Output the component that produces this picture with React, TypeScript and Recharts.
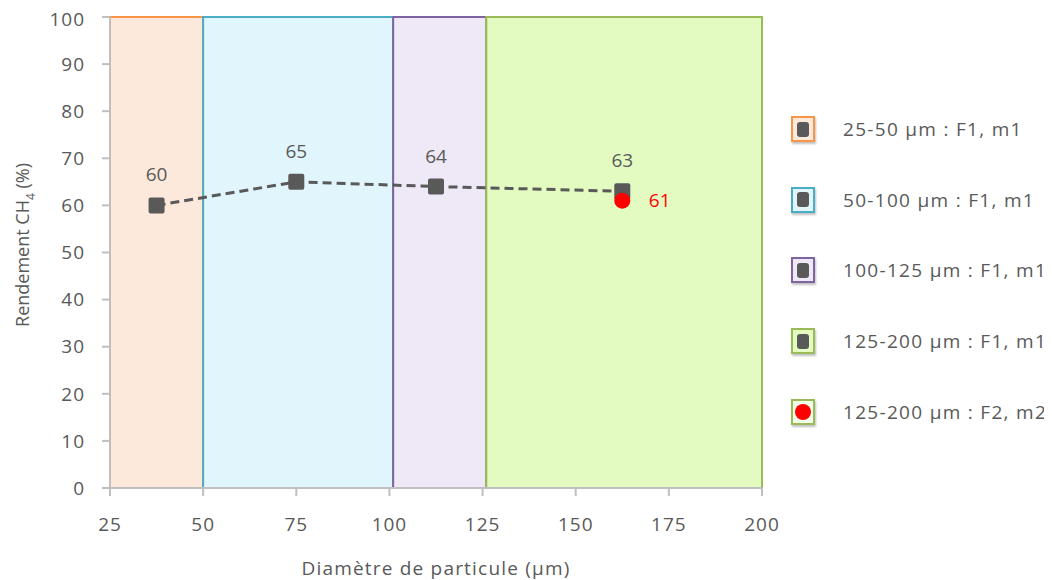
import { ComposedChart, Line, Scatter, XAxis, YAxis, ReferenceArea, LabelList } from "recharts";

// particle size ranges (µm) shown as coloured bands
const rangeLabels = ["25-50 µm : F1, m1", "50-100 µm : F1, m1", "100-125 µm : F1, m1", "125-200 µm : F1, m1"];
const rangeStart = [25, 50, 101, 126];
const rangeEnd = [50, 101, 126, 200];
const rangeFill = ["#fde9db", "#e1f5fd", "#eee8f7", "#e3fbc1"];
const rangeStroke = ["#f79646", "#4bacc6", "#8064a2", "#9bbb59"];

// F1, m1 series
const diam = [37.5, 75, 112.5, 162.5];
const rendement = [60, 65, 64, 63];

// F2, m2 point
const diamF2 = [162.5];
const rendementF2 = [61];
const f2Label = "125-200 µm : F2, m2";

const xTicks = [25, 50, 75, 100, 125, 150, 175, 200];
const yTicks = [0, 10, 20, 30, 40, 50, 60, 70, 80, 90, 100];

const FONT = "'Open Sans', 'DejaVu Sans', sans-serif";
const GREY = "#595959";
const AXIS = "#bfbfbf";

const f1Data = diam.map((x, i) => ({ x, y: rendement[i] }));
const f2Data = diamF2.map((x, i) => ({ x, y: rendementF2[i] }));

const tickStyle = { fill: GREY, fontSize: 19, fontFamily: FONT, letterSpacing: 1 };

const SquareDot = (props: any) => {
  const { cx, cy, index } = props;
  if (cx == null || cy == null) return null;
  return <rect key={`sq-${index}`} x={cx - 8} y={cy - 8} width={16} height={16} rx={2} fill={GREY} />;
};

const RedDot = (props: any) => {
  const { cx, cy } = props;
  return <circle cx={cx} cy={cy} r={8} fill="#ff0000" />;
};

const YLabel = () => (
  <text
    x={14}
    y={237}
    transform="rotate(-90 14 237)"
    textAnchor="middle"
    dominantBaseline="central"
    fill={GREY}
    fontSize={18}
    fontFamily={FONT}
  >
    Rendement CH<tspan baselineShift="sub" fontSize={12}>4</tspan> (%)
  </text>
);

const LegendIcon = ({ stroke, fill, round }: { stroke: string; fill: string; round?: boolean }) => (
  <div
    style={{
      width: 24,
      height: 26,
      boxSizing: "border-box",
      border: `2px solid ${stroke}`,
      background: fill,
      boxShadow: "1px 2px 2px rgba(0,0,0,0.25)",
      display: "flex",
      alignItems: "center",
      justifyContent: "center",
    }}
  >
    {round ? (
      <div style={{ width: 16, height: 16, borderRadius: 8, background: "#ff0000" }} />
    ) : (
      <div style={{ width: 12, height: 15, borderRadius: 3, background: GREY }} />
    )}
  </div>
);

export default function App() {
  const legendRows = [
    ...rangeLabels.map((label, i) => ({ label, stroke: rangeStroke[i], fill: rangeFill[i], round: false })),
    { label: f2Label, stroke: rangeStroke[3], fill: "#f4fde8", round: true },
  ];

  return (
    <div style={{ position: "relative", width: 1036, height: 572, fontFamily: FONT }}>
      <ComposedChart width={780} height={572} margin={{ top: 9, right: 26, left: 0, bottom: 0 }}>
        {rangeStart.map((s, i) => (
          <ReferenceArea
            key={i}
            x1={s}
            x2={rangeEnd[i]}
            y1={0}
            y2={100}
            fill={rangeFill[i]}
            fillOpacity={1}
            stroke={rangeStroke[i]}
            strokeWidth={2}
          />
        ))}
        <XAxis
          type="number"
          dataKey="x"
          domain={[25, 200]}
          ticks={xTicks}
          allowDataOverflow
          height={92}
          tickSize={8}
          tickMargin={22}
          stroke={AXIS}
          strokeWidth={2}
          tick={tickStyle}
          label={{
            value: "Diamètre de particule (µm)",
            position: "insideBottom",
            offset: 5,
            fill: GREY,
            fontSize: 19,
            fontFamily: FONT,
            letterSpacing: 1.2,
          }}
        />
        <YAxis
          type="number"
          domain={[0, 100]}
          ticks={yTicks}
          width={102}
          tickSize={8}
          tickMargin={17}
          stroke={AXIS}
          strokeWidth={2}
          tick={tickStyle}
          label={<YLabel />}
        />
        <Line
          data={f1Data}
          dataKey="y"
          stroke={GREY}
          strokeWidth={3}
          strokeDasharray="9 5"
          dot={SquareDot}
          activeDot={false}
          isAnimationActive={false}
        >
          <LabelList dataKey="y" position="top" offset={24} fill={GREY} fontSize={19} fontFamily={FONT} />
        </Line>
        <Scatter data={f2Data} dataKey="y" shape={RedDot} isAnimationActive={false}>
          <LabelList dataKey="y" position="right" offset={22} fill="#ff0000" fontSize={19} fontFamily={FONT} />
        </Scatter>
      </ComposedChart>
      <div style={{ position: "absolute", left: 783, top: 0 }}>
        {legendRows.map((r, i) => (
          <div
            key={i}
            style={{
              position: "absolute",
              top: 108 + i * 70.7,
              left: 0,
              display: "flex",
              alignItems: "center",
              whiteSpace: "nowrap",
              height: 26,
            }}
          >
            <LegendIcon stroke={r.stroke} fill={r.fill} round={r.round} />
            <span style={{ marginLeft: 28, color: GREY, fontSize: 19, letterSpacing: 1.3 }}>{r.label}</span>
          </div>
        ))}
      </div>
    </div>
  );
}
